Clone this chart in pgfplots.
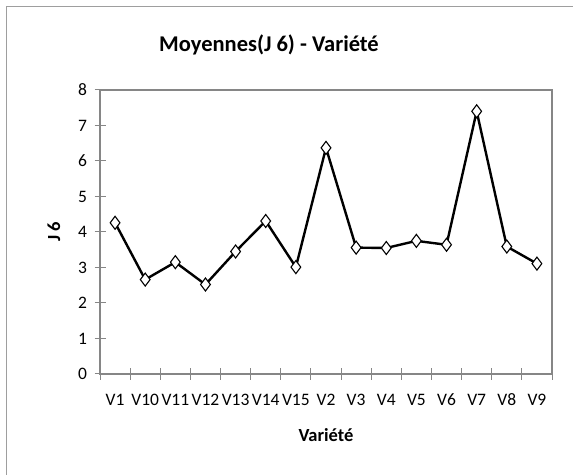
\documentclass[border=0pt]{standalone}
\usepackage{fontspec}
\setmainfont{Carlito}
\usepackage{pgfplots}
\pgfplotsset{compat=1.18}
\definecolor{axgray}{RGB}{134,134,134}
\begin{document}
\begin{tikzpicture}[x=1pt,y=1pt]
\path[use as bounding box] (0,0) rectangle (573,474);
\draw[axgray!80, line width=1pt] (6,-10) -- (6,467) -- (590,467);
\node[anchor=base, font=\fontsize{22.5}{26}\selectfont\bfseries] at (269,422) {Moyennes(J 6) - Variété};
\begin{axis}[
  at={(100pt,100pt)}, anchor=south west,
  scale only axis, width=452pt, height=284pt,
  xmin=-0.5, xmax=14.5, ymin=0, ymax=8,
  xtick={0,...,14},
  xticklabels={V1,V10,V11,V12,V13,V14,V15,V2,V3,V4,V5,V6,V7,V8,V9},
  major x tick style={draw=none},
  minor xtick={-0.5,0.5,...,14.5},
  ytick={0,...,8},
  xtick pos=bottom, ytick pos=left,
  tick align=center,
  major tick length=11pt, minor tick length=11pt,
  tick style={axgray, line width=1pt},
  axis line style={axgray, line width=1.2pt},
  tick label style={font=\fontsize{17.5}{20}\selectfont},
  /pgf/number format/assume math mode=true,
  xticklabel style={yshift=-11pt},
  yticklabel style={xshift=-4pt},
  xlabel={Variété}, ylabel={J 6},
  label style={font=\fontsize{18.5}{21}\selectfont\bfseries},
  xlabel style={yshift=-16pt},
  ylabel style={yshift=11pt},
]
\addplot[black, line width=2.4pt, mark=diamond*, mark size=6.5pt,
  mark options={fill=white, draw=black, line width=1.1pt}]
coordinates {
(0,4.26) (1,2.66) (2,3.15) (3,2.52) (4,3.45) (5,4.31) (6,3.01)
(7,6.37) (8,3.56) (9,3.55) (10,3.75) (11,3.64) (12,7.40) (13,3.59) (14,3.11)
};
\end{axis}
\end{tikzpicture}
\end{document}
